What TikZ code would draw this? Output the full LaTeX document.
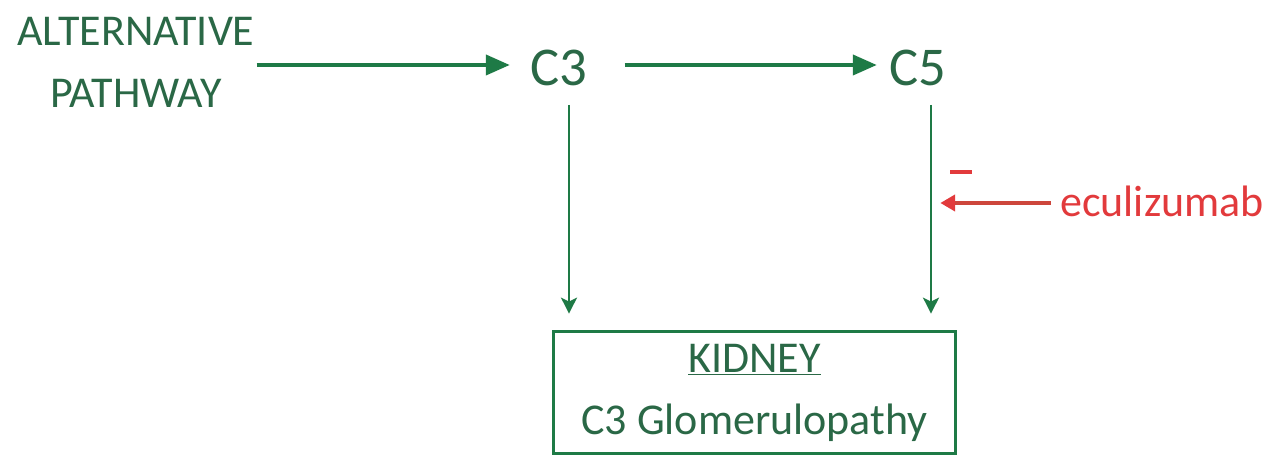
\documentclass[tikz,border=0pt]{standalone}
\usepackage{fontspec}
\setmainfont{Carlito}
\usetikzlibrary{arrows.meta}
\definecolor{gtext}{RGB}{42,104,70}
\definecolor{gline}{RGB}{30,122,70}
\definecolor{rred}{RGB}{226,58,60}
\definecolor{rline}{RGB}{205,70,60}
\tikzset{
  lbl/.style={text=gtext, inner sep=0pt, font=\fontsize{33}{46.5}\selectfont},
  big/.style={text=gtext, inner sep=0pt, font=\fontsize{41}{46}\selectfont},
  harrow/.style={draw=gline, line width=3pt, -{Triangle[length=18pt,width=15pt]}},
  varrow/.style={draw=gline, line width=1.9pt, -{Stealth[length=12pt,width=12pt,inset=3pt]}},
  rarrow/.style={draw=rline, line width=2.6pt, -{Triangle[length=11pt,width=12pt,color=rred]}},
  kbox/.style={draw=gline, line width=2.3pt, text=gtext, inner sep=0pt,
    minimum width=302pt, minimum height=92pt, align=center,
    font=\fontsize{33}{46.5}\selectfont},
}
\begin{document}
\begin{tikzpicture}[x=0.75pt, y=-0.75pt]
\useasboundingbox (0,0) rectangle (1272,459);
\node[lbl, align=center] (alt) at (136,62) {ALTERNATIVE\\PATHWAY};
\node[big] (c3) at (558.5,67.5) {C3};
\node[big] (c5) at (917.5,67.5) {C5};
\node[kbox] (box) at (754.5,392.5) {\underline{KIDNEY}\\C3 Glomerulopathy};
\node[lbl, text=rred, anchor=base west] (ecu) at (1060,217) {eculizumab};
\node[lbl, text=rred] (minus) at (961,172) {\rule{16pt}{2.4pt}};
\coordinate (c3d) at (569,105);
\coordinate (c5d) at (931,105);
\coordinate (inh) at (931,203);
\draw[harrow, shorten <=1.5pt, shorten >=15pt] (alt.east |- 0,65) -- (c3.west |- 0,65);
\draw[harrow, shorten <=28pt, shorten >=9pt] (c3.east |- 0,65) -- (c5.west |- 0,65);
\draw[varrow, shorten >=12pt] (c3d) -- (c3d |- box.north);
\draw[varrow, shorten >=12pt] (c5d) -- (c5d |- box.north);
\draw[rarrow, shorten <=7pt, shorten >=7pt] (ecu.west |- inh) -- (inh);
\end{tikzpicture}
\end{document}
